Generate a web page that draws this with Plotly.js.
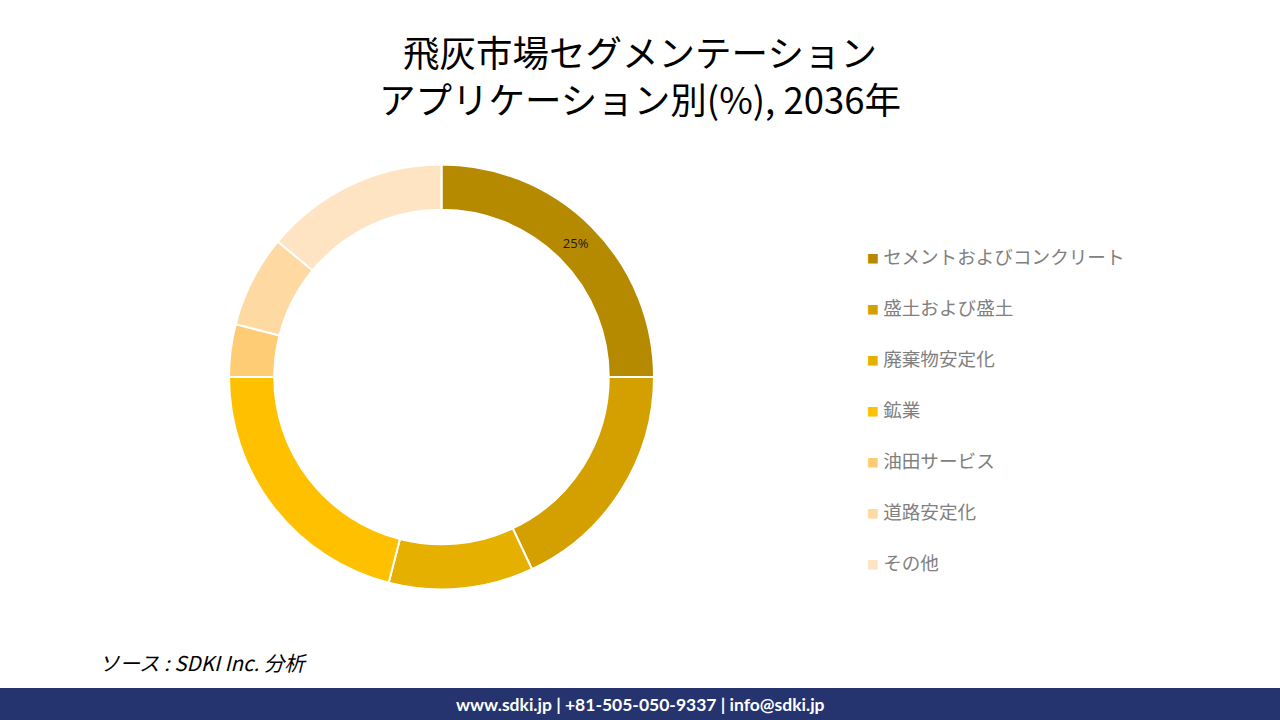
<!DOCTYPE html>
<html>
<head>
<meta charset="utf-8">
<script src="https://cdn.plot.ly/plotly-3.0.1.min.js"></script>
<style>
  html, body { margin: 0; padding: 0; background: #ffffff; }
  #chart { width: 1280px; height: 720px; }
</style>
</head>
<body>
<div id="chart"></div>
<script>
/* Fly ash market share by application, 2036 — donut with a hand-placed legend
   column on the right (Plotly's own legend can't space rows this far apart). */
(function () {
  "use strict";

  // Data (percent of market).
  var labels = [
    "セメントおよびコンクリート",
    "盛土および盛土",
    "廃棄物安定化",
    "鉱業",
    "油田サービス",
    "道路安定化",
    "その他"
  ];
  var shares = [25, 18, 11, 21, 4, 7, 14];
  var colors = ["#b58a00", "#d4a000", "#e6b000", "#ffc000", "#ffcc76", "#ffd9a2", "#ffe4c3"];

  // Only the largest slice carries a label in the reference.
  var sliceText = shares.map(function (v, i) {
    return i === 0 ? v + "%" : "";
  });

  var JP = "'Noto Sans CJK JP', 'Noto Sans', sans-serif";
  var W = 1280;
  var H = 720;

  // Donut geometry in page pixels -> paper fractions (margins are zero).
  var CX = 441.5, CY = 377, R = 212.5;

  var trace = {
    type: "pie",
    labels: labels,
    values: shares,
    text: sliceText,
    textinfo: "text",
    textposition: "inside",
    insidetextorientation: "horizontal",
    textfont: { family: "'Open Sans', sans-serif", size: 13, color: "#1a1a1a" },
    hole: 0.787,
    sort: false,
    direction: "clockwise",
    rotation: 0,
    marker: { colors: colors, line: { color: "#ffffff", width: 2 } },
    domain: {
      x: [(CX - R) / W, (CX + R) / W],
      y: [(H - CY - R) / H, (H - CY + R) / H]
    },
    hoverinfo: "skip",
    showlegend: false
  };

  // Legend column: small coloured square + grey label, one row every 51px.
  var LEG_X = 865, LEG_Y0 = 255.5, LEG_STEP = 51;
  var annotations = labels.map(function (lab, i) {
    return {
      xref: "paper",
      yref: "paper",
      x: LEG_X / W,
      y: 1 - (LEG_Y0 + i * LEG_STEP) / H,
      xanchor: "left",
      yanchor: "middle",
      showarrow: false,
      align: "left",
      text: '<span style="color:' + colors[i] + ';font-size:12px">■</span> ' + lab,
      font: { family: JP, size: 18.6, color: "#808080" }
    };
  });

  annotations.push({
    xref: "paper",
    yref: "paper",
    x: 97 / W,
    y: 1 - 662 / H,
    xanchor: "left",
    yanchor: "middle",
    showarrow: false,
    text: "<i>ソース : SDKI Inc. 分析</i>",
    font: { family: JP, size: 20.5, color: "#000000" }
  });

  annotations.push({
    xref: "paper",
    yref: "paper",
    x: 0.5,
    y: 16 / H,
    xanchor: "center",
    yanchor: "middle",
    showarrow: false,
    text: "<b>www.sdki.jp | +81-505-050-9337 | info@sdki.jp</b>",
    font: { family: "Lato, 'Open Sans', sans-serif", size: 17.5, color: "#ffffff" }
  });

  var layout = {
    width: W,
    height: H,
    autosize: false,
    margin: { l: 0, r: 0, t: 0, b: 0 },
    paper_bgcolor: "#ffffff",
    plot_bgcolor: "#ffffff",
    showlegend: false,
    title: {
      text: "飛灰市場セグメンテーション<br>アプリケーション別(%), 2036年",
      font: { family: JP, size: 36.5, color: "#000000" },
      x: 0.5,
      xanchor: "center",
      xref: "paper",
      y: 1 - 67 / H,
      yanchor: "middle",
      yref: "container"
    },
    // Navy contact band along the bottom edge.
    shapes: [
      {
        type: "rect",
        xref: "paper",
        yref: "paper",
        x0: 0,
        x1: 1,
        y0: 0,
        y1: 32 / H,
        fillcolor: "#25336f",
        line: { width: 0 },
        layer: "below"
      }
    ],
    annotations: annotations
  };

  Plotly.newPlot("chart", [trace], layout, { displayModeBar: false, staticPlot: true });
})();
</script>
</body>
</html>
